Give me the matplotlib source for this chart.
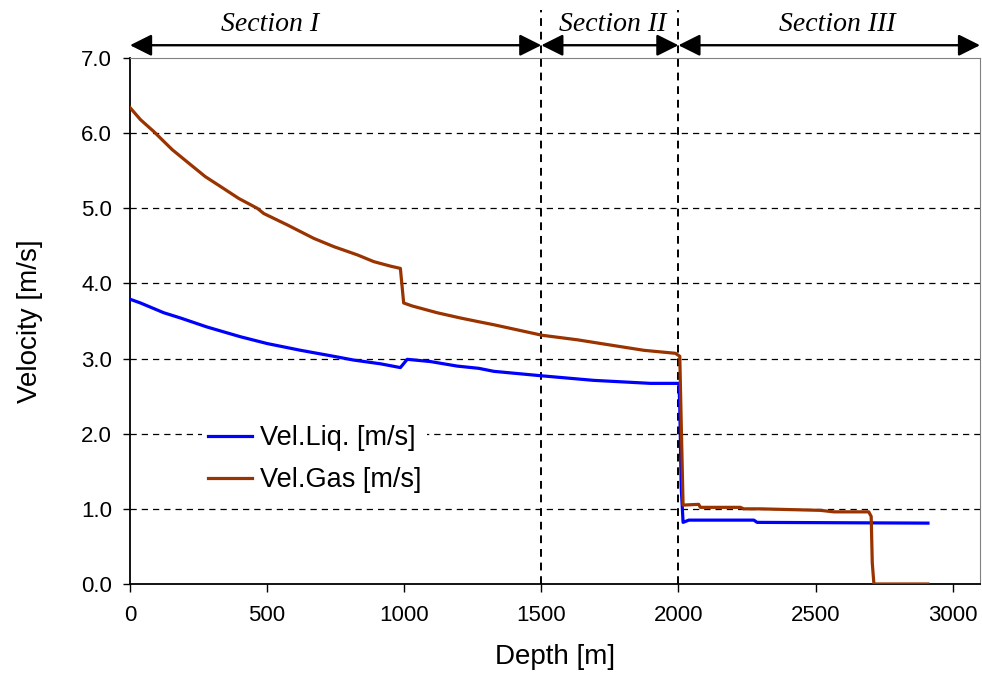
import matplotlib
matplotlib.use("Agg")
import matplotlib.pyplot as plt

# depth [m] and velocities [m/s]
depth_gas = [0, 38, 87, 154, 221, 275, 330, 397, 464, 488, 573, 670, 743, 829, 889,
             950, 986, 998, 1029, 1120, 1205, 1272, 1327, 1503, 1631, 1752, 1874, 1989,
             2005, 2010, 2017, 2074, 2080, 2226, 2238, 2300, 2518, 2567, 2694, 2703,
             2707, 2713, 2910]
vel_gas = [6.34, 6.18, 6.02, 5.78, 5.58, 5.42, 5.29, 5.13, 5.00, 4.93, 4.78, 4.60, 4.49,
           4.38, 4.29, 4.23, 4.20, 3.74, 3.70, 3.61, 3.54, 3.49, 3.45, 3.31, 3.25, 3.18,
           3.11, 3.07, 3.03, 2.18, 1.05, 1.06, 1.02, 1.02, 1.00, 1.00, 0.98, 0.96, 0.96,
           0.90, 0.28, 0.0, 0.0]

depth_liq = [0, 38, 123, 184, 281, 403, 500, 622, 743, 816, 914, 986, 1011, 1096, 1193,
             1272, 1327, 1503, 1691, 1898, 1995, 2002, 2005, 2010, 2017, 2038, 2275,
             2287, 2910]
vel_liq = [3.79, 3.74, 3.61, 3.54, 3.42, 3.29, 3.20, 3.11, 3.03, 2.98, 2.93, 2.88, 2.99,
           2.96, 2.90, 2.87, 2.83, 2.77, 2.71, 2.67, 2.67, 2.67, 2.36, 1.30, 0.82, 0.85,
           0.85, 0.82, 0.81]

section_names = ["Section I", "Section II", "Section III"]
section_bounds = [0, 1500, 2000, 3100]
section_text_x = [509, 1760, 2580]

plt.rcParams["font.family"] = ["Liberation Sans", "DejaVu Sans"]

fig = plt.figure(figsize=(9.82, 6.93), dpi=100)
ax = fig.add_axes([0.1324, 0.1573, 0.8656, 0.759])

ax.plot(depth_liq, vel_liq, color="#0000FF", lw=2.3, label="Vel.Liq. [m/s]", zorder=3)
ax.plot(depth_gas, vel_gas, color="#993300", lw=2.3, label="Vel.Gas [m/s]", zorder=3)

ax.set_xlim(0, 3100)
ax.set_ylim(0, 7)
ax.set_xticks(range(0, 3001, 500))
ax.set_yticks([i * 1.0 for i in range(8)])
ax.set_yticklabels([f"{i:.1f}" for i in range(8)])
ax.tick_params(labelsize=16, direction="out", length=5, width=1, colors="black")
ax.tick_params(axis="y", pad=8)
ax.tick_params(axis="x", pad=9, length=6)

for y in range(1, 7):
    ax.axhline(y, color="black", lw=0.9, ls=(0, (5, 4)), zorder=1)

for side in ("top", "right"):
    ax.spines[side].set_color("#808080")
    ax.spines[side].set_linewidth(0.8)
for side in ("left", "bottom"):
    ax.spines[side].set_linewidth(1.3)

ax.set_xlabel("Depth [m]", fontsize=20, labelpad=13)
ax.set_ylabel("Velocity [m/s]", fontsize=20, labelpad=27)

# section boundaries and arrows
for xb in section_bounds[1:3]:
    ax.plot([xb, xb], [0, 7.64], color="black", lw=1.4, ls=(0, (4, 3)),
            clip_on=False, zorder=2)
for i, name in enumerate(section_names):
    ax.annotate("", xy=(section_bounds[i], 7.17), xytext=(section_bounds[i + 1], 7.17),
                xycoords="data", annotation_clip=False,
                arrowprops=dict(arrowstyle="<|-|>,head_length=0.6,head_width=0.3",
                                color="black", lw=1.7,
                                mutation_scale=22, shrinkA=0, shrinkB=0))
    ax.text(section_text_x[i], 7.45, name, ha="center", va="center", fontsize=20,
            style="italic", family=["Liberation Serif", "DejaVu Serif"], clip_on=False)

leg = ax.legend(loc="upper left", bbox_to_anchor=(0.069, 0.338), fontsize=19.5,
                frameon=True, handlelength=1.65, handletextpad=0.3, labelspacing=0.6,
                borderpad=0.2)
leg.get_frame().set_edgecolor("none")
leg.get_frame().set_facecolor("white")
leg.get_frame().set_alpha(1)

fig.savefig("out.png", dpi=100)
